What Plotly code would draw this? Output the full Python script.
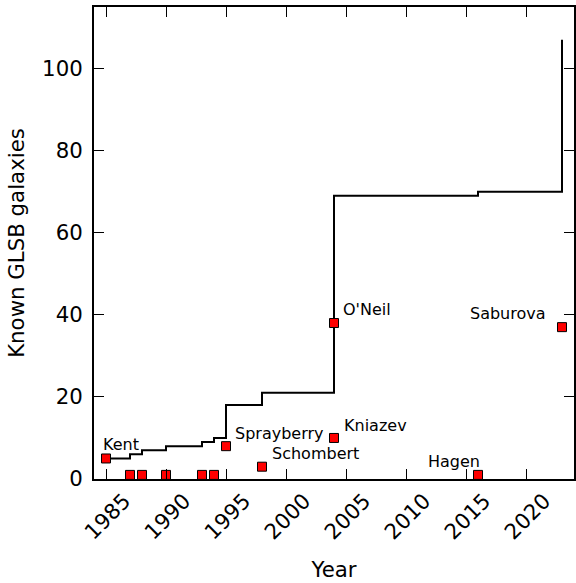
import numpy as np
import plotly.graph_objects as go

# Discoveries of giant low-surface-brightness galaxies
years = [1985, 1987, 1988, 1990, 1993, 1994, 1995, 1998, 2004, 2004, 2016, 2023]
counts = [5, 1, 1, 1, 1, 1, 8, 3, 10, 38, 1, 37]
authors = ["Kent", "", "", "", "", "", "Sprayberry", "Schombert",
           "Kniazev", "O'Neil", "Hagen", "Saburova"]

x_ticks = [1985, 1990, 1995, 2000, 2005, 2010, 2015, 2020]
x_tick_labels = ["1985", "1990", "1995", "2000", "2005", "2010", "2015", "2020"]
y_ticks = [0, 20, 40, 60, 80, 100]

# label placement: (anchor, x shift px, y shift px)
label_place = {
    "Kent": ("left", -5, 14),
    "Sprayberry": ("left", 7, 13),
    "Schombert": ("left", 7.5, 13),
    "Kniazev": ("left", 7.5, 12.5),
    "O'Neil": ("left", 7, 13.5),
    "Hagen": ("right", 3.5, 13),
    "Saburova": ("right", -14.5, 13.5),
}

FONT = "DejaVu Sans"

# cumulative total, one step per discovery year
step_years = sorted(set(years))
totals = np.cumsum([sum(c for y, c in zip(years, counts) if y == sy) for sy in step_years])

fig = go.Figure()
fig.add_trace(go.Scatter(
    x=step_years, y=totals, mode="lines", line=dict(color="black", width=2, shape="hv"),
    showlegend=False, hoverinfo="skip"))
fig.add_trace(go.Scatter(
    x=years, y=counts, mode="markers",
    marker=dict(symbol="square", size=9, color="#ff0000", line=dict(color="black", width=1)),
    showlegend=False))

annotations = []
for y0, c, name in zip(years, counts, authors):
    if not name:
        continue
    anchor, dx, dy = label_place[name]
    annotations.append(dict(
        x=y0, y=c, xref="x", yref="y", text=name, showarrow=False,
        xanchor=anchor, yanchor="middle", xshift=dx, yshift=dy,
        font=dict(family=FONT, size=16, color="black")))

for tv, tl in zip(x_ticks, x_tick_labels):
    annotations.append(dict(
        x=tv, y=0, xref="x", yref="paper", text=tl, showarrow=False,
        textangle=-45, xanchor="center", yanchor="middle", yshift=-37, xshift=1,
        font=dict(family=FONT, size=21.3, color="black")))

fig.update_layout(
    width=576, height=583,
    margin=dict(l=94, r=0, t=7, b=104),
    paper_bgcolor="white", plot_bgcolor="white",
    font=dict(family=FONT, size=21.3, color="black"),
    annotations=annotations,
    xaxis=dict(
        range=[1984, 2024], tickvals=x_ticks, showticklabels=False,
        ticks="inside", ticklen=10, tickwidth=1, tickcolor="black",
        showline=True, linewidth=2, linecolor="black", mirror="allticks",
        showgrid=False, zeroline=False,
        title=dict(text="Year", font=dict(family=FONT, size=21.3), standoff=82)),
    yaxis=dict(
        range=[0, 115], tickvals=y_ticks,
        ticks="inside", ticklen=10, tickwidth=1, tickcolor="black",
        showline=True, linewidth=2, linecolor="black", mirror="allticks",
        showgrid=False, zeroline=False, ticklabelstandoff=5,
        tickfont=dict(family=FONT, size=21.3),
        title=dict(text="Known GLSB galaxies", font=dict(family=FONT, size=21.3), standoff=12)),
)

fig.write_html("out.html")
